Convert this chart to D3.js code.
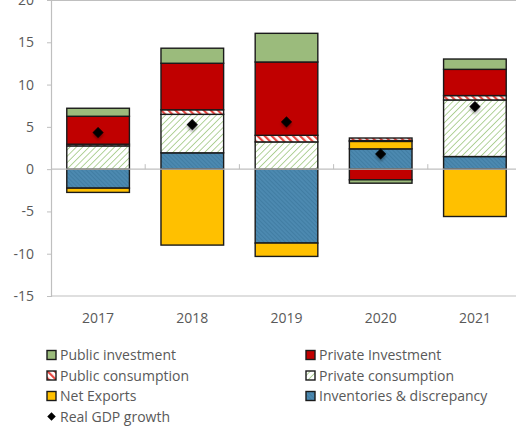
<!DOCTYPE html>
<html>
<head>
<meta charset="utf-8">
<script src="https://cdn.jsdelivr.net/npm/d3@7"></script>
<style>
  html, body { margin: 0; padding: 0; background: #fff; }
  svg { display: block; font-family: "Open Sans", "Noto Sans", sans-serif; }
</style>
</head>
<body>
<svg id="chart" width="516" height="426"></svg>
<script>
// Contributions to real GDP growth, percentage points
const years = ["2017", "2018", "2019", "2020", "2021"];
const inventories   = [-2.25, 1.93, -8.74, 2.40, 1.49];
const netExports    = [-0.50, -8.98, -1.58, 0.88, -5.60];
const privateCons   = [2.75, 4.55, 3.22, 0.10, 6.69];
const publicCons    = [0.20, 0.54, 0.78, 0.30, 0.52];
const privateInv    = [3.30, 5.50, 8.67, -1.26, 3.10];
const publicInv     = [0.95, 1.78, 3.39, -0.40, 1.22];
const gdpGrowth     = [4.33, 5.27, 5.59, 1.80, 7.40];
const yTicks = [-15, -10, -5, 0, 5, 10, 15, 20];

const seriesNames = ["Inventories & discrepancy", "Net Exports", "Private consumption",
                     "Public consumption", "Private Investment", "Public investment"];
const seriesValues = [inventories, netExports, privateCons, publicCons, privateInv, publicInv];

const svg = d3.select("#chart");
const margin = { left: 51, top: 0, width: 471, height: 296 };

const x = d3.scaleBand().domain(years).range([margin.left, margin.left + margin.width])
  .paddingInner(0.335).paddingOuter(0.1675);
const xb = d3.scaleBand().domain(years).range([margin.left, margin.left + margin.width]);
const y = d3.scaleLinear().domain([-15, 20]).range([margin.top + margin.height, margin.top]);

// fill patterns
const defs = svg.append("defs");
const pc = defs.append("pattern").attr("id", "privCons").attr("patternUnits", "userSpaceOnUse")
  .attr("width", 4.5).attr("height", 4.5).attr("patternTransform", "rotate(45)");
pc.append("rect").attr("width", 4.5).attr("height", 4.5).attr("fill", "#fff");
pc.append("line").attr("x1", 0).attr("y1", 0).attr("x2", 0).attr("y2", 4.5)
  .attr("stroke", "#a6cb8a").attr("stroke-width", 1.7);

const pu = defs.append("pattern").attr("id", "pubCons").attr("patternUnits", "userSpaceOnUse")
  .attr("width", 5).attr("height", 5).attr("patternTransform", "rotate(-45)");
pu.append("rect").attr("width", 5).attr("height", 5).attr("fill", "#fff");
pu.append("line").attr("x1", 1).attr("y1", 0).attr("x2", 1).attr("y2", 5)
  .attr("stroke", "#e8453f").attr("stroke-width", 2.4);

const inv = defs.append("pattern").attr("id", "invPat").attr("patternUnits", "userSpaceOnUse")
  .attr("width", 3).attr("height", 3).attr("patternTransform", "rotate(-45)");
inv.append("rect").attr("width", 3).attr("height", 3).attr("fill", "#4c89b0");
inv.append("line").attr("x1", 0.5).attr("y1", 0).attr("x2", 0.5).attr("y2", 3)
  .attr("stroke", "#3f7aa0").attr("stroke-width", 0.8);

const shadow = defs.append("filter").attr("id", "shadow")
  .attr("x", "-50%").attr("y", "-50%").attr("width", "200%").attr("height", "200%");
shadow.append("feDropShadow").attr("dx", 1.5).attr("dy", 1.5).attr("stdDeviation", 1.2)
  .attr("flood-color", "#000").attr("flood-opacity", 0.35);

const fills = {
  "Inventories & discrepancy": "url(#invPat)",
  "Net Exports": "#ffc000",
  "Private consumption": "url(#privCons)",
  "Public consumption": "url(#pubCons)",
  "Private Investment": "#c00000",
  "Public investment": "#9bbb7c"
};

// frame
const axisColor = "#bfbfbf";
const textColor = "#595959";
svg.append("line").attr("x1", margin.left).attr("x2", margin.left + margin.width)
  .attr("y1", y(20) + 0.5).attr("y2", y(20) + 0.5).attr("stroke", axisColor);
svg.append("line").attr("x1", margin.left).attr("x2", margin.left + margin.width)
  .attr("y1", y(-15)).attr("y2", y(-15)).attr("stroke", axisColor).attr("stroke-width", 1.2);

// y axis
const yAxis = svg.append("g").attr("transform", `translate(${margin.left},0)`)
  .call(d3.axisLeft(y).tickValues(yTicks).tickFormat(d => String(d)).tickSize(4).tickPadding(13));
yAxis.select(".domain").attr("stroke", axisColor).attr("stroke-width", 1.2);
yAxis.selectAll(".tick line").attr("stroke", axisColor);
yAxis.selectAll("text").attr("fill", textColor).attr("font-size", 14)
  .attr("font-family", "'Open Sans', sans-serif");

// table rows for stacking
const rows = years.map((yr, i) => {
  const r = { year: yr };
  seriesNames.forEach((n, k) => { r[n] = seriesValues[k][i]; });
  return r;
});
const stacked = d3.stack().keys(seriesNames).offset(d3.stackOffsetDiverging)(rows);

const gBars = svg.append("g");
stacked.forEach(layer => {
  gBars.selectAll(null).data(layer).join("rect")
    .attr("x", d => x(d.data.year))
    .attr("width", x.bandwidth())
    .attr("y", d => y(Math.max(d[0], d[1])))
    .attr("height", d => Math.abs(y(d[0]) - y(d[1])))
    .attr("fill", fills[layer.key])
    .attr("stroke", "#1a1a1a").attr("stroke-width", 1.4);
});

// zero line with category separator ticks
svg.append("line").attr("x1", margin.left).attr("x2", margin.left + margin.width)
  .attr("y1", y(0)).attr("y2", y(0)).attr("stroke", axisColor).attr("stroke-width", 1.2);
svg.selectAll(null).data(years.slice(1)).join("line")
  .attr("x1", d => xb(d)).attr("x2", d => xb(d))
  .attr("y1", y(0) - 5).attr("y2", y(0)).attr("stroke", axisColor);

// x labels
svg.selectAll(null).data(years).join("text")
  .attr("x", d => xb(d) + xb.bandwidth() / 2).attr("y", 323)
  .attr("text-anchor", "middle").attr("fill", textColor).attr("font-size", 14)
  .text(d => d);

// GDP growth markers
const diamond = d3.symbol().type(d3.symbolSquare).size(62);
svg.selectAll(null).data(years).join("path")
  .attr("d", diamond)
  .attr("transform", (d, i) => `translate(${xb(d) + xb.bandwidth() / 2},${y(gdpGrowth[i])}) rotate(45)`)
  .attr("fill", "#000").attr("filter", "url(#shadow)");

// legend
const legendItems = [
  { name: "Public investment", col: 0, row: 0 },
  { name: "Private Investment", col: 1, row: 0 },
  { name: "Public consumption", col: 0, row: 1 },
  { name: "Private consumption", col: 1, row: 1 },
  { name: "Net Exports", col: 0, row: 2 },
  { name: "Inventories & discrepancy", col: 1, row: 2 }
];
const colX = [47, 306];
const rowY = r => 355 + r * 20.5;
const lg = svg.append("g");
legendItems.forEach(it => {
  lg.append("rect").attr("x", colX[it.col]).attr("y", rowY(it.row) - 4.5)
    .attr("width", 9).attr("height", 9)
    .attr("fill", fills[it.name]).attr("stroke", "#1a1a1a").attr("stroke-width", 1.4);
  lg.append("text").attr("x", colX[it.col] + 13).attr("y", rowY(it.row) + 5)
    .attr("fill", textColor).attr("font-size", 14).text(it.name);
});
lg.append("path").attr("d", d3.symbol().type(d3.symbolSquare).size(36))
  .attr("transform", `translate(${colX[0] + 4.5},${rowY(3)}) rotate(45)`).attr("fill", "#000");
lg.append("text").attr("x", colX[0] + 13).attr("y", rowY(3) + 5)
  .attr("fill", textColor).attr("font-size", 14).text("Real GDP growth");
</script>
</body>
</html>
